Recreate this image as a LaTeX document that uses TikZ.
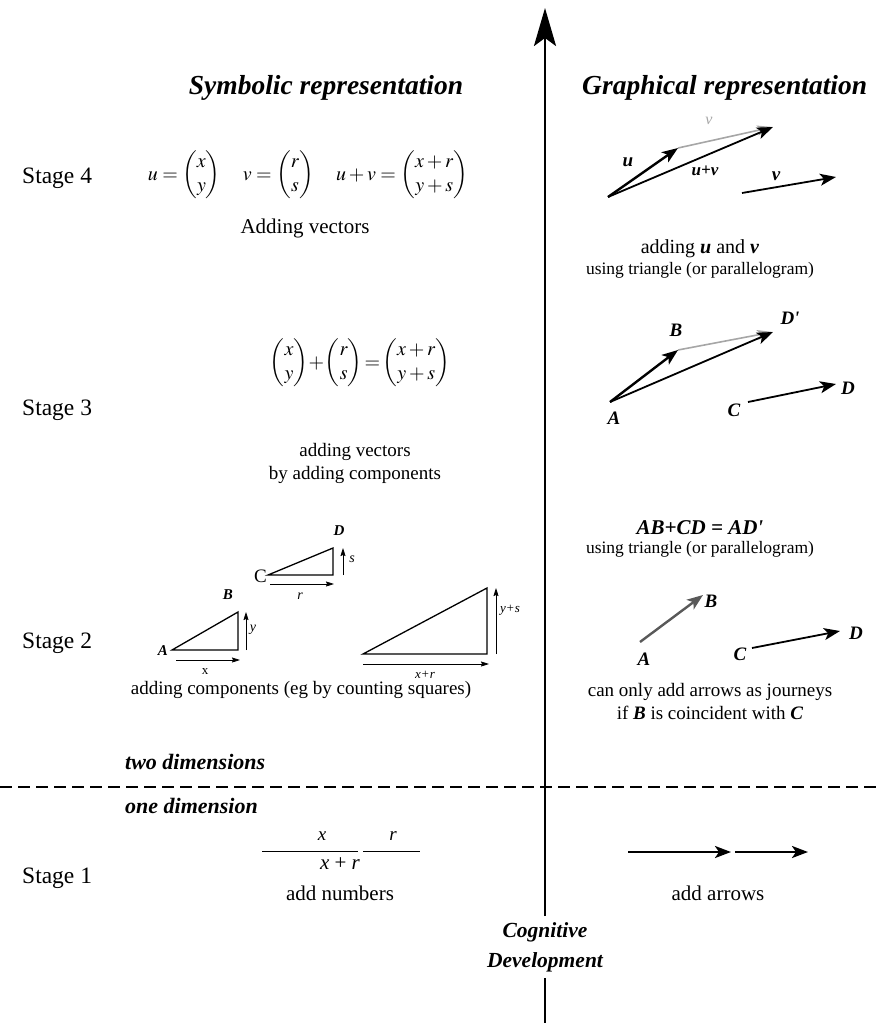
\documentclass[tikz,border=0pt]{standalone}
\usepackage{amsmath}
\usepackage{mathptmx}
\usepackage{fontspec}
\setmainfont{Liberation Serif}
\usetikzlibrary{arrows.meta}
\begin{document}
\begin{tikzpicture}[x=1pt,y=-1pt,
  txt/.style={font=\fontsize{19}{23}\selectfont, inner sep=0pt},
  big/.style={font=\fontsize{21}{25}\selectfont, inner sep=0pt},
  small/.style={font=\fontsize{17.5}{21}\selectfont, inner sep=0pt},
  head/.style={font=\fontsize{27.5}{31}\selectfont\bfseries\itshape, inner sep=0pt},
  dimlab/.style={font=\fontsize{22}{26}\selectfont\bfseries\itshape, anchor=west, inner sep=0pt},
  lab/.style={font=\fontsize{19}{22}\selectfont\bfseries\itshape, inner sep=0pt},
  vec/.style={line width=2.4pt, -{Stealth[length=16pt,width=12pt,inset=4pt]}},
  vecthin/.style={line width=1.8pt, -{Stealth[length=16pt,width=12pt,inset=4pt]}},
  greyvec/.style={line width=1.6pt, draw=black!35, -{Stealth[length=16pt,width=10pt,inset=4pt]}},
  tri/.style={line width=1.3pt},
  comp/.style={line width=0.8pt, -{Stealth[length=8pt,width=5pt,inset=1pt]}},
  stage/.style={font=\fontsize{23.5}{27}\selectfont, anchor=west, inner sep=0pt},
]
\useasboundingbox (0,0) rectangle (876,1023);

% axis
\coordinate (axbot) at (545,1023);
\coordinate (axtop) at (545,8);
\node[font=\fontsize{21.5}{30}\selectfont\bfseries\itshape, align=center, inner sep=6pt] (cog) at (545,947) {Cognitive\\Development};
\draw[line width=2.6pt] (axbot) -- (cog.south);
\draw[line width=2.6pt, -{Stealth[length=38pt,width=22pt,inset=8pt]}] (cog.north) -- (axtop);

% headers
\node[head] (hsym) at (326,88) {Symbolic representation};
\node[head, anchor=west] (hgr) at (582,88) {Graphical representation};

% stage labels
\node[stage] (s4) at (22,178) {Stage 4};
\node[stage] (s3) at (22,410) {Stage 3};
\node[stage] (s2) at (22,643) {Stage 2};
\node[stage] (s1) at (22,878) {Stage 1};

% dimension divider
\coordinate (dl) at (0,787);
\coordinate (dr) at (876,787);
\draw[line width=2.2pt, dash pattern=on 12pt off 6pt] (dl) -- (dr);
\node[dimlab] (two) at (125,762) {two dimensions};
\node[dimlab] (one) at (125,806) {one dimension};

% ---------- Stage 4 ----------
\node[txt, font=\fontsize{20}{24}\selectfont] (eq4) at (308,175) {$u=\begin{pmatrix}x\\y\end{pmatrix}\quad v=\begin{pmatrix}r\\s\end{pmatrix}\quad u+v=\begin{pmatrix}x+r\\y+s\end{pmatrix}$};
\node[big] (t4) at (305,228) {Adding vectors};

\coordinate (u0) at (608,197);
\coordinate (u1) at (678,148);
\coordinate (uv) at (773,127);
\draw[greyvec] (u1) -- (uv);
\draw[vecthin] (u0) -- (uv);
\draw[vec] (u0) -- (u1);
\node[lab] (lu) at (628,162) {u};
\node[lab, text=black!35, font=\fontsize{16}{18}\selectfont\itshape] (lvg) at (709,121) {v};
\node[lab, font=\fontsize{17}{20}\selectfont\bfseries\itshape] (luv) at (705,171) {u+v};
\coordinate (v0) at (742,193);
\coordinate (v1) at (836,177);
\draw[vecthin] (v0) -- (v1);
\node[lab] (lv) at (776,176) {v};
\node[txt, font=\fontsize{20}{24}\selectfont] (g4a) at (700,249) {adding \textbf{\textit{u}} and \textbf{\textit{v}}};
\node[small] (g4b) at (700,270) {using triangle (or parallelogram)};

% ---------- Stage 3 ----------
\node[txt, font=\fontsize{20}{24}\selectfont] (eq3) at (360,363) {$\begin{pmatrix}x\\y\end{pmatrix}\!+\!\begin{pmatrix}r\\s\end{pmatrix}\!=\!\begin{pmatrix}x+r\\y+s\end{pmatrix}$};
\node[txt, align=center] (t3) at (355,463) {adding vectors\\by adding components};

\coordinate (A3) at (610,402);
\coordinate (B3) at (678,350);
\coordinate (D3p) at (773,332);
\draw[greyvec] (B3) -- (D3p);
\draw[vecthin] (A3) -- (D3p);
\draw[vec] (A3) -- (B3);
\coordinate (C3) at (748,402);
\coordinate (D3) at (836,384);
\draw[vecthin] (C3) -- (D3);
\node[lab] (lA3) at (614,418) {A};
\node[lab] (lB3) at (676,330) {B};
\node[lab] (lD3p) at (790,318) {D\textquotesingle};
\node[lab] (lC3) at (734,410) {C};
\node[lab] (lD3) at (848,388) {D};
\node[lab, font=\fontsize{21}{25}\selectfont\bfseries\itshape] (g3a) at (700,528) {AB+CD = AD\textquotesingle};
\node[small] (g3b) at (700,549) {using triangle (or parallelogram)};

% ---------- Stage 2 ----------
% triangle AB
\coordinate (ta) at (172,650);
\coordinate (tb) at (238,650);
\coordinate (tc) at (238,612);
\draw[tri] (ta) -- (tb) -- (tc) -- cycle;
\node[lab, font=\fontsize{15}{18}\selectfont\bfseries\itshape, anchor=east] (lA2s) at (168,651) {A};
\node[lab, font=\fontsize{15}{18}\selectfont\bfseries\itshape] (lB2s) at (228,595) {B};
\coordinate (xa) at (176,660); \coordinate (xb) at (240,660);
\draw[comp] (xa) -- (xb);
\node[small, font=\fontsize{13}{15}\selectfont] (lx) at (205,672) {x};
\coordinate (ya) at (246,650); \coordinate (yb) at (246,612);
\draw[comp] (ya) -- (yb);
\node[small, font=\fontsize{14}{16}\selectfont\itshape] (ly) at (253,630) {y};
% triangle CD
\coordinate (tca) at (268,575);
\coordinate (tcb) at (333,575);
\coordinate (tcc) at (333,548);
\draw[tri] (tca) -- (tcb) -- (tcc) -- cycle;
\node[txt, anchor=east] (lC2s) at (267,576) {C};
\node[lab, font=\fontsize{15}{18}\selectfont\bfseries\itshape] (lD2s) at (339,531) {D};
\coordinate (ra) at (270,584); \coordinate (rb) at (334,584);
\draw[comp] (ra) -- (rb);
\node[small, font=\fontsize{14}{16}\selectfont\itshape] (lr) at (300,596) {r};
\coordinate (sa) at (343,575); \coordinate (sb) at (343,548);
\draw[comp] (sa) -- (sb);
\node[small, font=\fontsize{14}{16}\selectfont\itshape] (ls) at (352,559) {s};
% big triangle
\coordinate (ba) at (363,654);
\coordinate (bb) at (487,654);
\coordinate (bc) at (487,588);
\draw[tri] (ba) -- (bb) -- (bc) -- cycle;
\coordinate (xra) at (363,664); \coordinate (xrb) at (489,664);
\draw[comp] (xra) -- (xrb);
\node[small, font=\fontsize{13}{15}\selectfont\itshape] (lxr) at (425,675) {x+r};
\coordinate (ysa) at (496,654); \coordinate (ysb) at (496,588);
\draw[comp] (ysa) -- (ysb);
\node[small, font=\fontsize{13}{15}\selectfont\itshape, anchor=west] (lys) at (500,610) {y+s};
\node[txt] (t2) at (301,690) {adding components (eg by counting squares)};

% graphical stage 2
\coordinate (A2) at (640,642);
\coordinate (B2) at (703,595);
\draw[vec, draw=black!65, fill=black!65] (A2) -- (B2);
\coordinate (C2) at (752,648);
\coordinate (D2) at (840,631);
\draw[vecthin] (C2) -- (D2);
\node[lab] (lA2) at (644,659) {A};
\node[lab] (lB2) at (711,601) {B};
\node[lab] (lC2) at (740,654) {C};
\node[lab] (lD2) at (856,633) {D};
\node[txt, align=center] (g2) at (710,701) {can only add arrows as journeys\\if \textbf{\textit{B}} is coincident with \textbf{\textit{C}}};

% ---------- Stage 1 ----------
\coordinate (f1a) at (262,851); \coordinate (f1b) at (358,851);
\coordinate (f2a) at (363,851); \coordinate (f2b) at (420,851);
\draw[line width=0.9pt] (f1a) -- (f1b);
\draw[line width=0.9pt] (f2a) -- (f2b);
\node[txt, font=\fontsize{19}{22}\selectfont\itshape] (fx) at (322,836) {x};
\node[txt, font=\fontsize{19}{22}\selectfont\itshape] (fr) at (393,836) {r};
\node[big] (fxr) at (340,864) {\textit{x} + \textit{r}};
\node[big] (t1) at (340,893) {add numbers};

\coordinate (a1) at (628,852); \coordinate (a2) at (731,852);
\coordinate (a3) at (735,852); \coordinate (a4) at (808,852);
\draw[vecthin, line width=2.4pt] (a1) -- (a2);
\draw[vecthin, line width=2.4pt] (a3) -- (a4);
\node[big] (g1) at (718,893) {add arrows};
\end{tikzpicture}
\end{document}
